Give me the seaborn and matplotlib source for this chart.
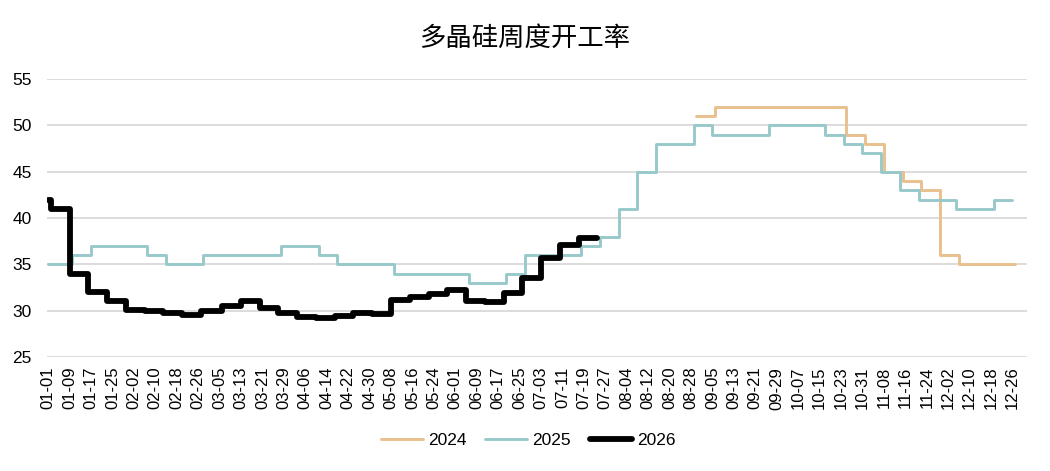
import pandas as pd
import matplotlib.pyplot as plt
import seaborn as sns

# 周度数据（MM-DD，按闰年日历排在横轴上）
dates_2024 = ["08-30", "09-06", "09-13", "09-20", "09-27", "10-04", "10-11", "10-18",
              "10-25", "11-01", "11-08", "11-15", "11-22", "11-29", "12-06", "12-13",
              "12-20", "12-27"]
values_2024 = [51, 52, 52, 52, 52, 52, 52, 52,
               49, 48, 45, 44, 43, 36, 35, 35,
               35, 35]

dates_2025 = ["01-01", "01-10", "01-17", "01-24", "01-31", "02-07", "02-14", "02-21",
              "02-28", "03-07", "03-14", "03-21", "03-28", "04-04", "04-11", "04-18",
              "04-25", "05-02", "05-09", "05-16", "05-23", "05-30", "06-06", "06-13",
              "06-20", "06-27", "07-04", "07-11", "07-18", "07-25", "08-01", "08-08",
              "08-15", "08-22", "08-29", "09-05", "09-12", "09-19", "09-26", "10-03",
              "10-10", "10-17", "10-24", "10-31", "11-07", "11-14", "11-21", "11-28",
              "12-05", "12-12", "12-19", "12-26"]
values_2025 = [35, 36, 37, 37, 37, 36, 35, 35,
               36, 36, 36, 36, 37, 37, 36, 35,
               35, 35, 34, 34, 34, 34, 33, 33,
               34, 36, 36, 36, 37, 38, 41, 45,
               48, 48, 50, 49, 49, 49, 50, 50,
               50, 49, 48, 47, 45, 43, 42, 42,
               41, 41, 42, 42]

dates_2026 = ["01-01", "01-02", "01-09", "01-16", "01-23", "01-30", "02-06", "02-13",
              "02-20", "02-27", "03-06", "03-13", "03-20", "03-27", "04-03", "04-10",
              "04-17", "04-24", "05-01", "05-08", "05-15", "05-22", "05-29", "06-05",
              "06-12", "06-19", "06-26", "07-03", "07-10", "07-17", "07-24"]
values_2026 = [42, 41, 34, 32, 31, 30.1, 30.0, 29.7,
               29.5, 30.0, 30.5, 31.0, 30.3, 29.8, 29.3, 29.2,
               29.4, 29.8, 29.6, 31.2, 31.5, 31.8, 32.2, 31.0,
               30.9, 31.9, 33.5, 35.7, 37.1, 37.8, 37.8]

tick_labels = ["01-01", "01-09", "01-17", "01-25", "02-02", "02-10", "02-18", "02-26",
               "03-05", "03-13", "03-21", "03-29", "04-06", "04-14", "04-22", "04-30",
               "05-08", "05-16", "05-24", "06-01", "06-09", "06-17", "06-25", "07-03",
               "07-11", "07-19", "07-27", "08-04", "08-12", "08-20", "08-28", "09-05",
               "09-13", "09-21", "09-29", "10-07", "10-15", "10-23", "10-31", "11-08",
               "11-16", "11-24", "12-02", "12-10", "12-18", "12-26"]
y_ticks = [25, 30, 35, 40, 45, 50, 55]


def day_index(md):
    return [pd.Timestamp("2024-" + d).dayofyear - 1 for d in md]


sns.set_theme(style="white")
plt.rcParams['font.family'] = ['Liberation Sans', 'Noto Sans CJK SC', 'DejaVu Sans']

fig = plt.figure(figsize=(10.5, 4.71), dpi=100)
ax = fig.add_axes([0.0448, 0.242, 0.933, 0.590])

series = [
    ("2024", dates_2024, values_2024, "#E9C08E", 2.1),
    ("2025", dates_2025, values_2025, "#97C9CA", 2.1),
    ("2026", dates_2026, values_2026, "#000000", 4.2),
]
for name, d, v, color, lw in series:
    df = pd.DataFrame({"day": day_index(d), "value": v})
    sns.lineplot(data=df, x="day", y="value", ax=ax, color=color, linewidth=lw,
                 drawstyle="steps-post", label=name, zorder=3 if name == "2026" else 2)

ax.set_xlim(-0.4, 365.3)
ax.set_ylim(25, 55)
ax.set_yticks(y_ticks)
ax.set_yticklabels([str(t) for t in y_ticks], fontsize=12.5, color="black")
ax.set_xticks(day_index(tick_labels))
ax.set_xticklabels(tick_labels, rotation=90, fontsize=12, color="black")
ax.tick_params(axis="y", length=0, pad=11)
ax.tick_params(axis="x", length=0, pad=7)
ax.set_xlabel("")
ax.set_ylabel("")
ax.yaxis.grid(True, color="#D9D9D9", linewidth=1.3)
ax.xaxis.grid(False)
for s in ax.spines.values():
    s.set_visible(False)

fig.suptitle("多晶硅周度开工率", x=0.5, y=0.948, fontsize=19, color="black",
             family=['Noto Sans CJK SC', 'DejaVu Sans'], fontweight="light")

ax.legend_.remove()
handles, labels = ax.get_legend_handles_labels()
fig.legend(handles, labels, loc="center", bbox_to_anchor=(0.503, 0.064), ncol=3,
           frameon=False, fontsize=12.5, handlelength=2.4, handletextpad=0.3,
           columnspacing=1.1, labelcolor="black")

fig.savefig("out.png", dpi=100)
